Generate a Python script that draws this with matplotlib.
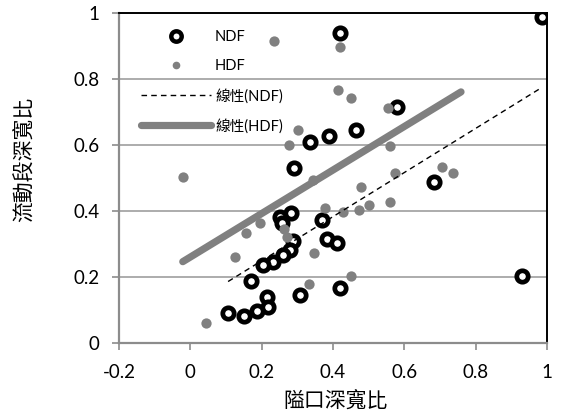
import numpy as np
import matplotlib
matplotlib.use("Agg")
import matplotlib.pyplot as plt
from matplotlib.lines import Line2D

# values
ndf_x = [0.985, 0.42, 0.58, 0.465, 0.388, 0.335, 0.29, 0.684, 0.929,
         0.251, 0.281, 0.256, 0.288, 0.368, 0.383, 0.411, 0.279, 0.26,
         0.232, 0.205, 0.17, 0.307, 0.419, 0.214, 0.218, 0.186, 0.152, 0.106]
ndf_y = [0.99, 0.94, 0.715, 0.646, 0.628, 0.611, 0.53, 0.49, 0.204,
         0.384, 0.396, 0.364, 0.31, 0.373, 0.315, 0.304, 0.283, 0.268,
         0.247, 0.238, 0.19, 0.146, 0.168, 0.141, 0.109, 0.097, 0.083, 0.091]

hdf_x = [0.234, 0.419, 0.414, 0.45, 0.554, 0.302, 0.277, 0.56, -0.021,
         0.345, 0.573, 0.706, 0.736, 0.479, 0.377, 0.428, 0.473, 0.501,
         0.561, 0.195, 0.155, 0.262, 0.27, 0.125, 0.347, 0.451, 0.333, 0.044]
hdf_y = [0.917, 0.899, 0.768, 0.742, 0.712, 0.646, 0.601, 0.598, 0.503,
         0.495, 0.515, 0.535, 0.515, 0.473, 0.41, 0.398, 0.404, 0.42,
         0.428, 0.364, 0.333, 0.345, 0.322, 0.261, 0.273, 0.204, 0.179, 0.061]

# linear trendlines as drawn in the chart: slope, intercept, x range
ndf_trend = [0.669, 0.116]
ndf_trend_x = [0.106, 0.985]
hdf_trend = [0.66, 0.261]
hdf_trend_x = [-0.021, 0.759]

x_ticks = [-0.2, 0, 0.2, 0.4, 0.6, 0.8, 1]
y_ticks = [0, 0.2, 0.4, 0.6, 0.8, 1]
x_title = "隘口深寬比"
y_title = "流動段深寬比"
labels = ['NDF', 'HDF', '線性(NDF)', '線性(HDF)']

plt.rcParams['font.family'] = ['Lato', 'Noto Sans CJK TC', 'DejaVu Sans']
cjk = ['Noto Sans CJK TC', 'DejaVu Sans']
grey = '#808080'
dash = (0, (4, 3))

fig = plt.figure(figsize=(5.61, 4.19), dpi=100)
ax = fig.add_axes([0.212, 0.181, 0.763, 0.787])

ax.plot(ndf_x, ndf_y, 'o', ms=8.2, mfc='white', mec='black', mew=3.4,
        ls='none', zorder=3)
ax.plot(hdf_x, hdf_y, 'o', ms=7.4, mfc=grey, mec=grey, mew=0,
        ls='none', zorder=4)

xx = np.array(ndf_trend_x)
ax.plot(xx, ndf_trend[0] * xx + ndf_trend[1], color='black', lw=1.0,
        ls=dash, zorder=5)
xx = np.array(hdf_trend_x)
ax.plot(xx, hdf_trend[0] * xx + hdf_trend[1], color=grey, lw=5.2,
        solid_capstyle='round', zorder=5)

ax.set_xlim(-0.2, 1)
ax.set_ylim(0, 1)
ax.set_xticks(x_ticks)
ax.set_xticklabels([('%g' % v) for v in x_ticks])
ax.set_yticks(y_ticks)
ax.set_yticklabels([('%g' % v) for v in y_ticks])
ax.tick_params(axis='both', labelsize=13.5, labelcolor='black', length=5,
               width=1.2, color='#8c8c8c')
ax.tick_params(axis='x', pad=10)
ax.tick_params(axis='y', pad=9)
ax.yaxis.grid(True, color='#a6a6a6', lw=1.3)
ax.set_axisbelow(True)

for s in ['left', 'bottom']:
    ax.spines[s].set_color('#8c8c8c')
    ax.spines[s].set_linewidth(1.6)
for s in ['top', 'right']:
    ax.spines[s].set_color('black')
    ax.spines[s].set_linewidth(1.4)

ax.set_xlabel(x_title, family=cjk, fontsize=15)
ax.xaxis.set_label_coords(0.505, -0.145)
ax.set_ylabel(y_title, family=cjk, fontsize=15)
ax.yaxis.label.set_va('center')
ax.yaxis.set_label_coords(-0.22, 0.558)

handles = [
    Line2D([], [], marker='o', ls='none', ms=7.5, mfc='white', mec='black', mew=3.2),
    Line2D([], [], marker='o', ls='none', ms=4.5, mfc=grey, mec=grey),
    Line2D([], [], color='black', lw=1.0, ls=dash),
    Line2D([], [], color=grey, lw=5.2, solid_capstyle='round'),
]
ax.legend(handles, labels, loc='upper left', bbox_to_anchor=(0.022, 0.99),
          frameon=False, handlelength=4.8, handletextpad=0.25,
          labelspacing=1.05, prop={'family': ['Lato', 'Noto Sans CJK TC'],
                                   'size': 10.5})

fig.savefig('out.png', dpi=100)
